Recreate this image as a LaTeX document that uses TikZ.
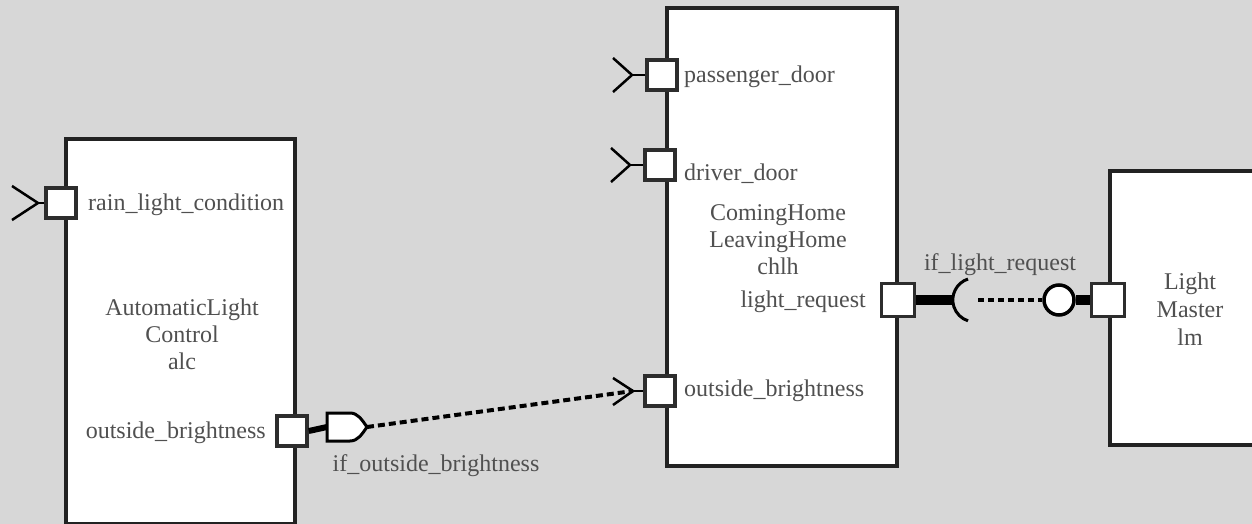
\documentclass[tikz,border=0pt]{standalone}
\usepackage{fontspec}
\setmainfont{Liberation Serif}
\begin{document}
\begin{tikzpicture}[x=1pt,y=-1pt,
  lbl/.style={inner sep=0pt, text=txtgray, font=\fontsize{24}{27}\selectfont},
  block/.style={draw=linedark, line width=4pt, fill=white, anchor=north west, inner sep=0pt},
  port/.style={draw=portdark, line width=3.5pt, fill=white, minimum size=30pt, inner sep=0pt},
  reqline/.style={line width=2.5pt, draw=black},
  assembly/.style={line width=7pt, draw=black},
  conn/.style={line width=4pt, draw=black, dash pattern=on 7pt off 4pt}]
\definecolor{bg}{RGB}{215,215,215}
\definecolor{linedark}{RGB}{34,34,34}
\definecolor{portdark}{RGB}{45,45,45}
\definecolor{txtgray}{RGB}{80,80,80}
\useasboundingbox (0,0) rectangle (1252,524);
\clip (0,0) rectangle (1252,524);
\fill[bg] (0,0) rectangle (1252,524);

% component blocks
\node[block, minimum width=229pt, minimum height=385pt] (alc) at (64,137) {};
\node[block, minimum width=230pt, minimum height=458pt] (chlh) at (665,6) {};
\node[block, minimum width=170pt, minimum height=274pt] (lm) at (1108,169) {};

% ports
\node[port] (prain) at (61,203) {};
\node[port] (palcout) at (292,431) {};
\node[port] (ppass) at (662,75) {};
\node[port] (pdrv) at (660,165) {};
\node[port] (pchin) at (660,391) {};
\node[port, minimum size=33pt] (preq) at (898,300) {};
\node[port, minimum size=33pt] (plm) at (1108,300) {};

% required-port chevrons
\coordinate (train) at (38,203);
\draw[reqline] (prain.west) -- (train);
\draw[reqline] (12,186) -- (train) -- (12,220);
\coordinate (tpass) at (632,75);
\draw[reqline] (ppass.west) -- (tpass);
\draw[reqline] (613,58) -- (tpass) -- (613,92);
\coordinate (tdrv) at (630,165);
\draw[reqline] (pdrv.west) -- (tdrv);
\draw[reqline] (611,148) -- (tdrv) -- (611,182);
\coordinate (tchin) at (633,391);
\draw[reqline] (pchin.west) -- (tchin);
\draw[reqline] (613,378) -- (tchin) -- (613,405);

% provided interface if_outside_brightness
\coordinate (dl) at (327,427);
\coordinate (dtip) at (367,427);
\draw[assembly, line width=6pt] (palcout.east) -- (dl);
\draw[line width=3pt, fill=white] (327,413) -- (350,413) .. controls (358,413) and (362,420) .. (dtip)
  .. controls (362,434) and (358,441) .. (350,441) -- (327,441) -- cycle;
\draw[conn] (dtip) -- (tchin);

% if_light_request: socket, dotted link, ball
\coordinate (sock) at (953,300);
\node[circle, draw=black, line width=3.5pt, fill=white, minimum size=30pt, inner sep=0pt] (ball) at (1059,300) {};
\draw[assembly, line width=10pt] (preq.east) -- (sock);
\draw[line width=3pt] (968,279) arc[start angle=252, end angle=108, radius=22];
\draw[conn, dash pattern=on 6pt off 4pt] (978,300) -- (ball.west);
\draw[assembly, line width=10pt] (ball.east) -- (plm.west);

% texts
\node[lbl, anchor=west] (train_t) at (88,205) {rain\_light\_condition};
\node[lbl, align=center] (alc_t) at (182,334) {AutomaticLight\\Control\\alc};
\node[lbl, anchor=east] (alcout_t) at (266,433) {outside\_brightness};
\node[lbl] (ifout_t) at (436,466) {if\_outside\_brightness};
\node[lbl, anchor=west] (pass_t) at (684,77) {passenger\_door};
\node[lbl, anchor=west] (drv_t) at (684,174) {driver\_door};
\node[lbl, align=center] (chlh_t) at (778,240) {ComingHome\\LeavingHome\\chlh};
\node[lbl, anchor=east] (req_t) at (866,302) {light\_request};
\node[lbl, anchor=west] (chin_t) at (684,391) {outside\_brightness};
\node[lbl] (ifreq_t) at (1000,265) {if\_light\_request};
\node[lbl, align=center, font=\fontsize{24}{28}\selectfont] (lm_t) at (1190,309) {Light\\Master\\lm};
\end{tikzpicture}
\end{document}
